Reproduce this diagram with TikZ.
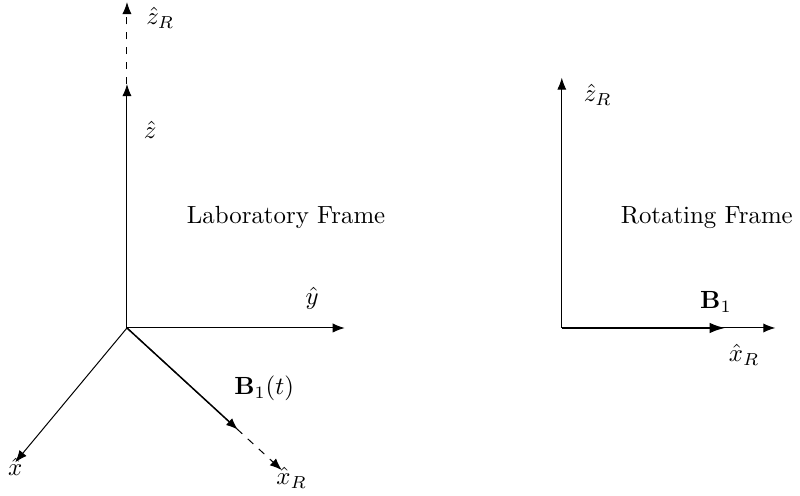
\documentclass[tikz,border=0pt]{standalone}
\usetikzlibrary{arrows.meta}
\begin{document}
\begin{tikzpicture}[>={Latex[length=1.7mm,width=1.3mm]}]
    \useasboundingbox (-1.796,-2.376) rectangle (9.519,4.639);
    % laboratory frame
    \coordinate (O) at (0,0);
    \coordinate (zhat) at (0,3.45);
    \coordinate (zR) at (0,4.61);
    \coordinate (yhat) at (3.08,0);
    \coordinate (xhat) at (-1.58,-1.90);
    \coordinate (xR) at (2.19,-2.01);
    \coordinate (Bt) at (1.57,-1.44);
    \draw[->] (O) -- (zhat);
    \draw[->,dashed] (zhat) -- (zR);
    \draw[->] (O) -- (yhat);
    \draw[->] (O) -- (xhat);
    \draw[->,dashed] (O) -- (xR);
    \draw[->,semithick] (O) -- (Bt);
    \node (lzR) at (0.47,4.39) {$\hat{z}_R$};
    \node (lz) at (0.33,2.80) {$\hat{z}$};
    \node (ly) at (2.62,0.42) {$\hat{y}$};
    \node (lx) at (-1.58,-1.97) {$\hat{x}$};
    \node (lxR) at (2.33,-2.12) {$\hat{x}_R$};
    \node (lBt) at (1.94,-0.85) {$\mathbf{B}_1(t)$};
    \node (lab) at (2.25,1.56) {Laboratory Frame};
    % rotating frame
    \coordinate (O2) at (6.15,0);
    \coordinate (zR2) at (6.15,3.54);
    \coordinate (xR2) at (9.17,0);
    \coordinate (B2) at (8.46,0);
    \draw[->] (O2) -- (zR2);
    \draw[->] (O2) -- (xR2);
    \draw[-{Latex[length=2.2mm,width=1.5mm]},thick] (O2) -- (B2);
    \node (lzR2) at (6.66,3.30) {$\hat{z}_R$};
    \node (lxR2) at (8.73,-0.38) {$\hat{x}_R$};
    \node (lB2) at (8.33,0.37) {$\mathbf{B}_1$};
    \node (rot) at (8.20,1.56) {Rotating Frame};
\end{tikzpicture}
\end{document}
